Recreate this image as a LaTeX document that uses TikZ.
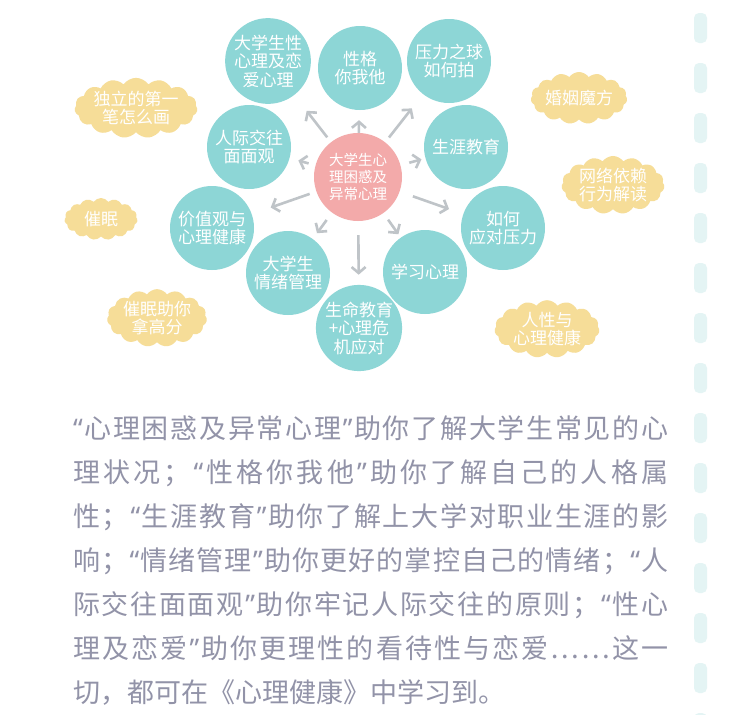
\documentclass[tikz,border=0pt]{standalone}
\usepackage{fontspec}
\setmainfont{Noto Sans CJK SC}
\newfontfamily\quotefont{Noto Sans}
\usetikzlibrary{shapes.symbols,arrows.meta,backgrounds}
\definecolor{bubbleteal}{HTML}{8DD6D6}
\definecolor{corepink}{HTML}{F3AAAA}
\definecolor{puffyellow}{HTML}{F6DD98}
\definecolor{arrowgray}{HTML}{BFC4C8}
\definecolor{branchgray}{HTML}{ECEEEF}
\definecolor{paragray}{HTML}{9293A8}
\definecolor{dashteal}{HTML}{E4F4F4}
\def\oq{{\quotefont “}}
\def\cq{{\quotefont ”}}
\def\spreadchar#1#2\relax{#1\ifx\relax#2\relax\else\hfil\spreadchar#2\relax\fi}
\newcommand\spreadline[1]{\hbox to 595pt{\spreadchar#1\relax}}
\tikzset{
  bubble/.style={circle, fill=bubbleteal, text=white, minimum size=84pt, inner sep=0pt,
    align=center, font=\fontsize{17}{18.5}\selectfont},
  core/.style={bubble, fill=corepink, minimum size=88pt, font=\fontsize{14.5}{17}\selectfont},
  puff/.style={cloud, cloud puffs=15, cloud puff arc=110, cloud ignores aspect,
    fill=puffyellow, text=white, inner sep=0pt, align=center,
    font=\fontsize{17}{18.5}\selectfont},
  branch/.style={draw=branchgray, line width=1.2pt},
  arr/.style={->, draw=arrowgray, line width=2.6pt},
  para/.style={anchor=base west, inner sep=0pt, text=paragray, font=\fontsize{27}{30}\selectfont}
}
\begin{document}
\begin{tikzpicture}[x=1pt,y=-1pt,>={Straight Barb[length=6pt,width=14pt]}]
  \useasboundingbox[fill=white] (0,0) rectangle (750,715);
  \foreach \y in {13,63,...,713}
    \fill[dashteal, rounded corners=5pt] (694,\y) rectangle (707,\y+30);

  \node[core] (core) at (358,177) {大学生心\\理困惑及\\异常心理};
  \node[bubble] (sexlove) at (268,61) {大学生性\\心理及恋\\爱心理};
  \node[bubble] (persona) at (360,68) {性格\\你我他};
  \node[bubble] (stress) at (449,61) {压力之球\\如何拍};
  \node[bubble] (social) at (249,147) {人际交往\\面面观};
  \node[bubble] (career) at (466,147) {生涯教育};
  \node[bubble] (values) at (212,228) {价值观与\\心理健康};
  \node[bubble] (cope) at (503,228) {如何\\应对压力};
  \node[bubble] (mood) at (288,273) {大学生\\情绪管理};
  \node[bubble] (study) at (425,272) {学习心理};
  \node[bubble] (life) at (359,328) {生命教育\\+心理危\\机应对};

  \node[puff, minimum width=122pt, minimum height=57pt] (firststroke) at (136,108) {独立的第一\\笔怎么画};
  \node[puff, minimum width=92pt, minimum height=52pt] (marriage) at (579,98) {婚姻魔方};
  \node[puff, minimum width=103pt, minimum height=56pt] (netaddict) at (613,185) {网络依赖\\行为解读};
  \node[puff, minimum width=73pt, minimum height=42pt] (hypno) at (101,219) {催眠};
  \node[puff, minimum width=100pt, minimum height=55pt] (hypnoexam) at (157,318) {催眠助你\\拿高分};
  \node[puff, minimum width=105pt, minimum height=55pt] (humanity) at (547,329) {人性与\\心理健康};

  \begin{pgfonlayer}{background}
    \draw[branch] (core.center) .. controls (300,145) and (230,115) .. (firststroke.center);
    \draw[branch] (core.center) .. controls (300,225) and (200,240) .. (hypno.center);
    \draw[branch] (core.center) .. controls (340,265) and (260,318) .. (hypnoexam.center);
    \draw[branch] (core.center) .. controls (430,130) and (500,105) .. (marriage.center);
    \draw[branch] (core.center) .. controls (440,202) and (540,200) .. (netaddict.center);
    \draw[branch] (core.center) .. controls (400,250) and (470,290) .. (humanity.center);
  \end{pgfonlayer}

  \draw[arr, shorten <=6pt, shorten >=20pt] (core) -- (sexlove);
  \draw[arr, shorten <=0pt, shorten >=10pt] (core) -- (persona);
  \draw[arr, shorten <=6pt, shorten >=18pt] (core) -- (stress);
  \draw[arr, shorten <=7pt, shorten >=9pt] (core) -- (social);
  \draw[arr, shorten <=9pt, shorten >=4pt] (core) -- (career);
  \draw[arr, shorten <=7pt, shorten >=20pt] (core) -- (values);
  \draw[arr, shorten <=14pt, shorten >=15pt] (core) -- (cope);
  \draw[arr, shorten <=9pt, shorten >=7pt] (core) -- (mood);
  \draw[arr, shorten <=14pt, shorten >=10pt] (core) -- (life);
  \draw[arr, shorten <=8pt, shorten >=4pt] (core) -- (study);

  \node[para] (line1) at (73,438) {\spreadline{\oq 心理困惑及异常心理\cq 助你了解大学生常见的心}};
  \node[para] (line2) at (73,482) {\spreadline{理状况；\oq 性格你我他\cq 助你了解自己的人格属}};
  \node[para] (line3) at (73,526) {\spreadline{性；\oq 生涯教育\cq 助你了解上大学对职业生涯的影}};
  \node[para] (line4) at (73,570) {\spreadline{响；\oq 情绪管理\cq 助你更好的掌控自己的情绪；\oq 人}};
  \node[para] (line5) at (73,614) {\spreadline{际交往面面观\cq 助你牢记人际交往的原则；\oq 性心}};
  \node[para] (line6) at (73,658) {\spreadline{理及恋爱\cq 助你更理性的看待性与恋爱……这一}};
  \node[para] (line7) at (73,702) {切，都可在《心理健康》中学习到。};
\end{tikzpicture}
\end{document}
